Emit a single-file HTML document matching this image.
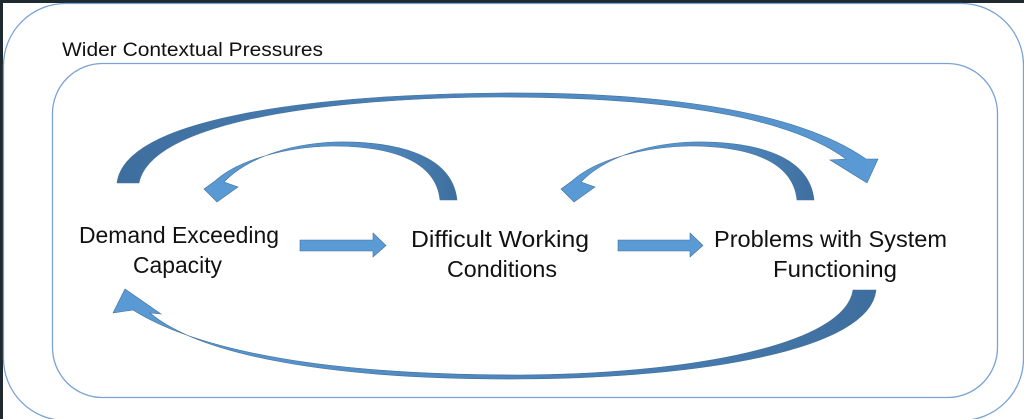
<!DOCTYPE html>
<html><head><meta charset="utf-8"><style>
html,body{margin:0;padding:0;background:#fff;}
svg{display:block;}
text{font-family:"Liberation Sans",sans-serif;fill:#111;}
</style></head><body>
<svg width="1024" height="419" viewBox="0 0 1024 419" xmlns="http://www.w3.org/2000/svg">
<defs>
<linearGradient id="gTop" x1="117" y1="0" x2="880" y2="0" gradientUnits="userSpaceOnUse">
<stop offset="0" stop-color="#3e6e9e"/><stop offset="0.5" stop-color="#4f86be"/><stop offset="1" stop-color="#5b9bd5"/></linearGradient>
<linearGradient id="gM1" x1="205" y1="0" x2="457" y2="0" gradientUnits="userSpaceOnUse">
<stop offset="0" stop-color="#5b9bd5"/><stop offset="0.6" stop-color="#5590c8"/><stop offset="1" stop-color="#3e6e9e"/></linearGradient>
<linearGradient id="gM2" x1="562" y1="0" x2="814" y2="0" gradientUnits="userSpaceOnUse">
<stop offset="0" stop-color="#5b9bd5"/><stop offset="0.6" stop-color="#5590c8"/><stop offset="1" stop-color="#3e6e9e"/></linearGradient>
<linearGradient id="gBot" x1="113" y1="0" x2="876" y2="0" gradientUnits="userSpaceOnUse">
<stop offset="0" stop-color="#5b9bd5"/><stop offset="0.5" stop-color="#4f86be"/><stop offset="1" stop-color="#3e6e9e"/></linearGradient>
</defs>
<rect x="0" y="0" width="1024" height="419" fill="#fff"/>
<rect x="0" y="0" width="1024" height="3" fill="#1f2a30"/>
<rect x="0" y="0" width="3" height="419" fill="#1f2a30"/>
<rect x="3.5" y="3.5" width="1020" height="417" rx="62" ry="62" fill="none" stroke="#7aa3d4" stroke-width="1.3"/>
<rect x="52.5" y="63.5" width="945" height="334" rx="50" ry="50" fill="none" stroke="#7aa3d4" stroke-width="1.3"/>
<text x="62" y="56" font-size="19" textLength="261" lengthAdjust="spacingAndGlyphs">Wider Contextual Pressures</text>

<path d="M117,183 C125,120 300,95 500,93 C700,92 810,120 866,159 L878,159 L867,183 L830,160 L846,159 C800,125 700,97 500,97 C310,98 150,125 139,183 Z" fill="url(#gTop)" stroke="#41719c" stroke-width="0.6"/>
<path d="M457,200 C452,152 390,141 335,142 C285,144 245,160 224,182 L238,187 L217,202 L204,189 L215,181 C238,160 285,147 332,146 C390,146 436,160 440,200 Z" fill="url(#gM1)" stroke="#41719c" stroke-width="0.6"/>
<path d="M814,200 C809,152 747,141 692,142 C642,144 602,160 581,182 L595,187 L574,202 L561,189 L572,181 C595,160 642,147 689,146 C747,146 793,160 797,200 Z" fill="url(#gM2)" stroke="#41719c" stroke-width="0.6"/>
<path d="M876,290 C870,350 700,378 520,379 C330,380 200,355 150,313 L161,314 L125,289 L113,313 L133,310 C200,352 330,375 520,375 C690,374 845,345 853,290 Z" fill="url(#gBot)" stroke="#41719c" stroke-width="0.6"/>
<path d="M300,240 L373,240 L373,233 L386,245.5 L373,257 L373,251 L300,251 Z" fill="#5b9bd5" stroke="#41719c" stroke-width="0.6"/>
<path d="M618,240 L690,240 L690,233 L703,245.5 L690,257 L690,251 L618,251 Z" fill="#5b9bd5" stroke="#41719c" stroke-width="0.6"/>

<text x="79" y="243" font-size="23" textLength="200" lengthAdjust="spacingAndGlyphs">Demand Exceeding</text>
<text x="133" y="273" font-size="23" textLength="89" lengthAdjust="spacingAndGlyphs">Capacity</text>
<text x="411" y="247" font-size="23" textLength="178" lengthAdjust="spacingAndGlyphs">Difficult Working</text>
<text x="447" y="277" font-size="23" textLength="110" lengthAdjust="spacingAndGlyphs">Conditions</text>
<text x="714" y="247" font-size="23" textLength="233" lengthAdjust="spacingAndGlyphs">Problems with System</text>
<text x="773" y="277" font-size="23" textLength="124" lengthAdjust="spacingAndGlyphs">Functioning</text>
</svg>
</body></html>
